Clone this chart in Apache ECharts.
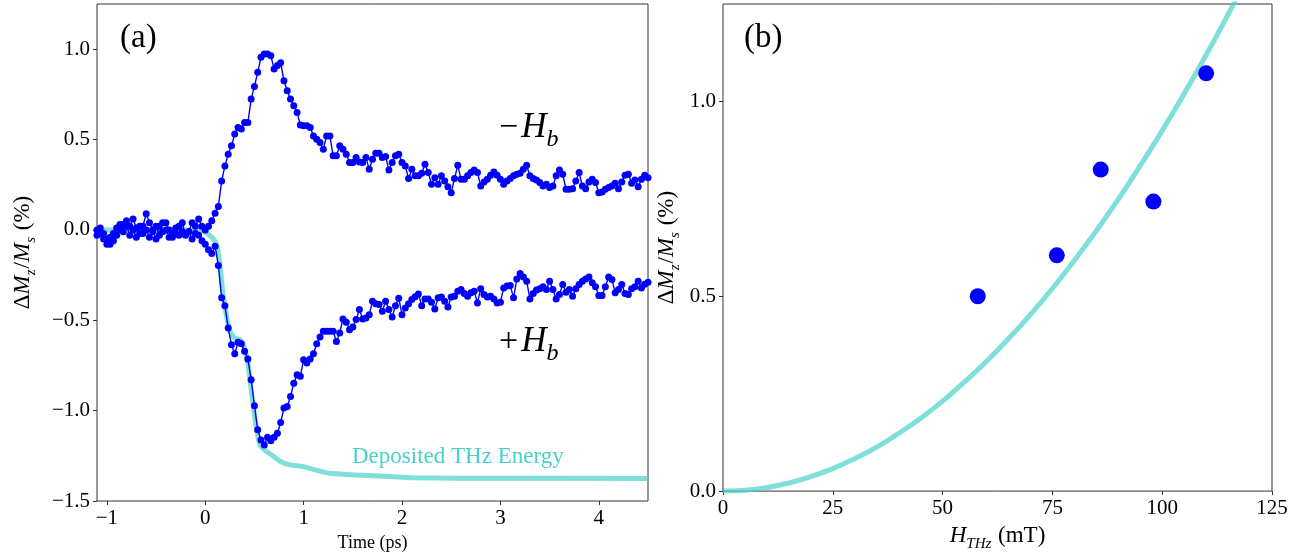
<!DOCTYPE html>
<html>
<head>
<meta charset="utf-8">
<script src="https://cdn.jsdelivr.net/npm/echarts@6/dist/echarts.min.js"></script>
<style>
  html, body { margin: 0; padding: 0; background: #fff; }
  #chart { width: 1299px; height: 557px; }
</style>
</head>
<body>
<div id="chart"></div>
<script>
// ---- Panel (a): pump-probe traces, delay stage sampled every 1/30 ps ----
const timeStart = -1.1;
const timeStep = 1 / 30;

// Trace measured with the bias field reversed (-H_b)
const minusHb = [
  0.00, 0.01, -0.02, -0.05, -0.08, -0.06, -0.03, 0.00, 0.03, 0.05,
  0.02, 0.06, 0.01, -0.02, 0.02, 0.09, 0.04, 0.00, -0.05, 0.02,
  0.04, 0.04, 0.00, -0.04, -0.02, 0.02, 0.04, -0.03, -0.01, 0.04,
  0.02, 0.06, 0.02, 0.00, 0.02, 0.05,
  0.092, 0.13, 0.27, 0.354, 0.419, 0.465, 0.53, 0.567, 0.558, 0.594,
  0.594, 0.724, 0.794, 0.872, 0.955, 0.973, 0.973, 0.964, 0.89, 0.91,
  0.925, 0.825, 0.77, 0.724, 0.687, 0.65, 0.58, 0.576, 0.576, 0.567,
  0.52, 0.502, 0.484, 0.446, 0.52, 0.52, 0.41, 0.41, 0.465, 0.446,
  0.419, 0.373, 0.373, 0.40, 0.376, 0.373, 0.40, 0.336, 0.391, 0.424,
  0.424, 0.40,
  0.406, 0.332, 0.373, 0.41, 0.419, 0.373, 0.354, 0.284, 0.336, 0.299,
  0.299, 0.313, 0.363, 0.317, 0.252, 0.289, 0.252, 0.299, 0.271, 0.239,
  0.206, 0.284, 0.358, 0.28, 0.28, 0.299, 0.317, 0.332, 0.317, 0.243,
  0.265, 0.28, 0.302, 0.321, 0.302, 0.28, 0.252, 0.271, 0.284, 0.299,
  0.308, 0.313, 0.336, 0.358, 0.299, 0.284, 0.276, 0.262, 0.243, 0.252,
  0.234, 0.243, 0.299, 0.332, 0.308, 0.225, 0.225, 0.228, 0.271, 0.317,
  0.243, 0.228, 0.265, 0.28, 0.262, 0.206, 0.21, 0.225, 0.234, 0.243,
  0.258, 0.228, 0.265, 0.302, 0.308, 0.258, 0.276, 0.239, 0.28, 0.302,
  0.289
];

// Trace measured with the bias field applied (+H_b)
const plusHb = [
  -0.03, -0.02, -0.05, -0.08, -0.04, -0.02, 0.01, 0.03, -0.01, 0.02,
  -0.03, 0.00, -0.04, 0.02, -0.02, 0.00, -0.04, -0.01, 0.02, -0.03,
  -0.01, 0.00, -0.04, -0.02, 0.01, -0.03, -0.01, -0.02, -0.01, -0.05,
  -0.02,
  -0.03, -0.06, -0.08, -0.11, -0.13, -0.09,
  -0.197, -0.376, -0.419, -0.543, -0.635, -0.685, -0.622, -0.63, -0.672, -0.714,
  -0.829, -0.973, -1.106, -1.162, -1.19, -1.147, -1.166, -1.147, -1.125, -1.066,
  -0.986, -0.977, -0.922, -0.848, -0.801, -0.81, -0.718, -0.737, -0.714, -0.685,
  -0.63, -0.593, -0.561, -0.561, -0.561, -0.561, -0.617, -0.57, -0.493, -0.511,
  -0.552, -0.537, -0.496, -0.441, -0.493, -0.487, -0.469, -0.395, -0.408, -0.413,
  -0.45,
  -0.395, -0.441, -0.482, -0.419, -0.378, -0.469, -0.432, -0.408, -0.385, -0.37,
  -0.354, -0.419, -0.382, -0.382, -0.40, -0.437, -0.376, -0.371, -0.395, -0.426,
  -0.371, -0.367, -0.339, -0.33, -0.352, -0.367, -0.348, -0.339, -0.404, -0.326,
  -0.358, -0.371, -0.367, -0.382, -0.404, -0.40, -0.321, -0.311, -0.308, -0.376,
  -0.271, -0.241, -0.26, -0.284, -0.382, -0.352, -0.333, -0.326, -0.315, -0.33,
  -0.284, -0.33, -0.382, -0.358, -0.302, -0.345, -0.33, -0.367, -0.326, -0.302,
  -0.284, -0.271, -0.26, -0.293, -0.315, -0.363, -0.363, -0.315, -0.26, -0.274,
  -0.348, -0.33, -0.302, -0.352, -0.358, -0.326, -0.315, -0.284, -0.321, -0.30,
  -0.29
];

// Deposited THz energy (scaled), time in ps
const energyTime = [-1.1, -0.6, -0.2, -0.05, 0.07, 0.12, 0.15, 0.184, 0.218, 0.252,
  0.302, 0.353, 0.394, 0.428, 0.455, 0.489, 0.523, 0.557, 0.608, 0.675,
  0.76, 0.861, 0.997, 1.133, 1.268, 1.539, 1.878, 2.11, 3.0, 4.5];
const energyValue = [0, 0, 0, -0.002, -0.043, -0.09, -0.2, -0.37, -0.48, -0.56,
  -0.6, -0.607, -0.645, -0.72, -0.83, -0.977, -1.106, -1.19, -1.22, -1.245,
  -1.28, -1.30, -1.31, -1.33, -1.347, -1.356, -1.365, -1.372, -1.374, -1.375];

const timeTicks = [-1, 0, 1, 2, 3, 4];
const dmTicksA = [-1.5, -1.0, -0.5, 0.0, 0.5, 1.0];

// ---- Panel (b): peak demagnetisation vs THz field ----
const fieldMT = [58, 76, 86, 98, 110];
const peakDM = [0.50, 0.605, 0.825, 0.743, 1.072];

// Quadratic fit curve
const fitField = [0, 5, 10, 15, 20, 25, 30, 35, 40, 45, 50, 55, 60, 65, 70, 75, 80,
  85, 90, 95, 100, 105, 110, 115, 120];
const fitDM = [0, 0.0023, 0.0093, 0.0208, 0.037, 0.0578, 0.0833, 0.113, 0.148, 0.187,
  0.231, 0.280, 0.333, 0.391, 0.453, 0.520, 0.592, 0.668, 0.749, 0.835,
  0.925, 1.020, 1.119, 1.223, 1.332];

const fieldTicks = [0, 25, 50, 75, 100, 125];
const dmTicksB = [0.0, 0.5, 1.0];

// ---- styling ----
const SERIF = "'Liberation Serif', 'DejaVu Serif', serif";
const FRAME = '#333';
const BLUE = '#0000ff';
const TURQ_LINE = 'rgba(72, 209, 204, 0.7)';
const TURQ_TEXT = '#48d1cc';

const minus = s => s.replace('-', '\u2212');
const fmt1 = v => minus(Number(v).toFixed(1));
const fmt0 = v => minus(String(Math.round(v)));

function pairs(xs, ys) { return xs.map((x, i) => [x, ys[i]]); }
const traceTimes = minusHb.map((_, i) => timeStart + i * timeStep);

const nameRich = {
  n: { fontFamily: SERIF, fontSize: 23, color: '#000', verticalAlign: 'bottom', padding: [0, 0, 5, 0] },
  i: { fontFamily: SERIF, fontStyle: 'italic', fontSize: 23, color: '#000', verticalAlign: 'bottom', padding: [0, 0, 5, 0] },
  s: { fontFamily: SERIF, fontStyle: 'italic', fontSize: 15, color: '#000', verticalAlign: 'bottom', padding: [0, 1, 0, 0] }
};
const dmName = '{n|\u0394}{i|M}{s|z}{n|/}{i|M}{s|s}{n| (%)}';

function axisBase(grid, min, max, ticks, fmt, margin) {
  return {
    type: 'value', gridIndex: grid, min: min, max: max,
    axisLine: { show: false, onZero: false },
    splitLine: { show: false },
    axisTick: { show: true, customValues: ticks, length: 4, lineStyle: { color: FRAME, width: 1 } },
    axisLabel: { customValues: ticks, formatter: fmt, fontFamily: SERIF, fontSize: 21, color: '#000', margin: margin }
  };
}

const chart = echarts.init(document.getElementById('chart'), null, { renderer: 'canvas' });

const hbRich = {
  n: { fontFamily: SERIF, fontSize: 34, fill: '#000', verticalAlign: 'bottom', padding: [0, 3, 7, 0] },
  i: { fontFamily: SERIF, fontStyle: 'italic', fontSize: 35, fill: '#000', verticalAlign: 'bottom', padding: [0, 0, 7, 0] },
  s: { fontFamily: SERIF, fontStyle: 'italic', fontSize: 24, fill: '#000', verticalAlign: 'bottom' }
};

const option = {
  backgroundColor: '#fff',
  animation: false,
  grid: [
    { left: 97, top: 4, width: 551, height: 497, show: true, borderColor: FRAME, borderWidth: 1, backgroundColor: 'transparent' },
    { left: 723, top: 4, width: 549, height: 497, show: true, borderColor: FRAME, borderWidth: 1, backgroundColor: 'transparent' }
  ],
  xAxis: [
    Object.assign(axisBase(0, -1.1, 4.5, timeTicks, fmt0, 7), {
      name: 'Time (ps)', nameLocation: 'middle', nameGap: 32,
      nameTextStyle: { fontFamily: SERIF, fontSize: 18, color: '#000' }
    }),
    Object.assign(axisBase(1, 0, 125, fieldTicks, fmt0, 7), {
      name: '{i|H}{s|THz}{n| (mT)}', nameLocation: 'middle', nameGap: 29,
      nameTextStyle: { rich: nameRich }
    })
  ],
  yAxis: [
    Object.assign(axisBase(0, -1.5, 1.25, dmTicksA, fmt1, 7), {
      name: dmName, nameLocation: 'middle', nameRotate: 90, nameGap: 58,
      nameTextStyle: { rich: nameRich }
    }),
    Object.assign(axisBase(1, 0, 1.25, dmTicksB, fmt1, 7), {
      name: dmName, nameLocation: 'middle', nameRotate: 90, nameGap: 40,
      nameTextStyle: { rich: nameRich }
    })
  ],
  series: [
    {
      name: 'Deposited THz Energy', type: 'line', xAxisIndex: 0, yAxisIndex: 0,
      data: pairs(energyTime, energyValue), smooth: 0.25, showSymbol: false,
      lineStyle: { color: TURQ_LINE, width: 5 }, z: 1
    },
    {
      name: '+H_b', type: 'line', xAxisIndex: 0, yAxisIndex: 0,
      data: pairs(traceTimes, plusHb), symbol: 'circle', symbolSize: 7, showAllSymbol: true,
      itemStyle: { color: BLUE, opacity: 1 }, lineStyle: { color: BLUE, width: 1.4 }, z: 2
    },
    {
      name: '-H_b', type: 'line', xAxisIndex: 0, yAxisIndex: 0,
      data: pairs(traceTimes, minusHb), symbol: 'circle', symbolSize: 7, showAllSymbol: true,
      itemStyle: { color: BLUE, opacity: 1 }, lineStyle: { color: BLUE, width: 1.4 }, z: 2
    },
    {
      name: 'fit', type: 'line', xAxisIndex: 1, yAxisIndex: 1,
      data: pairs(fitField, fitDM), smooth: true, showSymbol: false, clip: true,
      lineStyle: { color: TURQ_LINE, width: 5 }, z: 1
    },
    {
      name: 'peak', type: 'scatter', xAxisIndex: 1, yAxisIndex: 1,
      data: pairs(fieldMT, peakDM), symbol: 'circle', symbolSize: 16,
      itemStyle: { color: BLUE, opacity: 1 }, z: 2
    }
  ],
  graphic: [
    { type: 'text', left: 120, top: 22, style: { text: '(a)', fontFamily: SERIF, fontSize: 33, fill: '#000' } },
    { type: 'text', left: 744, top: 22, style: { text: '(b)', fontFamily: SERIF, fontSize: 33, fill: '#000' } },
    { type: 'text', left: 499, top: 110, style: { text: '{n|\u2212}{i|H}{s|b}', rich: hbRich } },
    { type: 'text', left: 499, top: 324, style: { text: '{n|+}{i|H}{s|b}', rich: hbRich } },
    { type: 'text', left: 352, top: 445, style: { text: 'Deposited THz Energy', fontFamily: SERIF, fontSize: 23, fill: TURQ_TEXT } }
  ]
};

chart.setOption(option);
</script>
</body>
</html>
